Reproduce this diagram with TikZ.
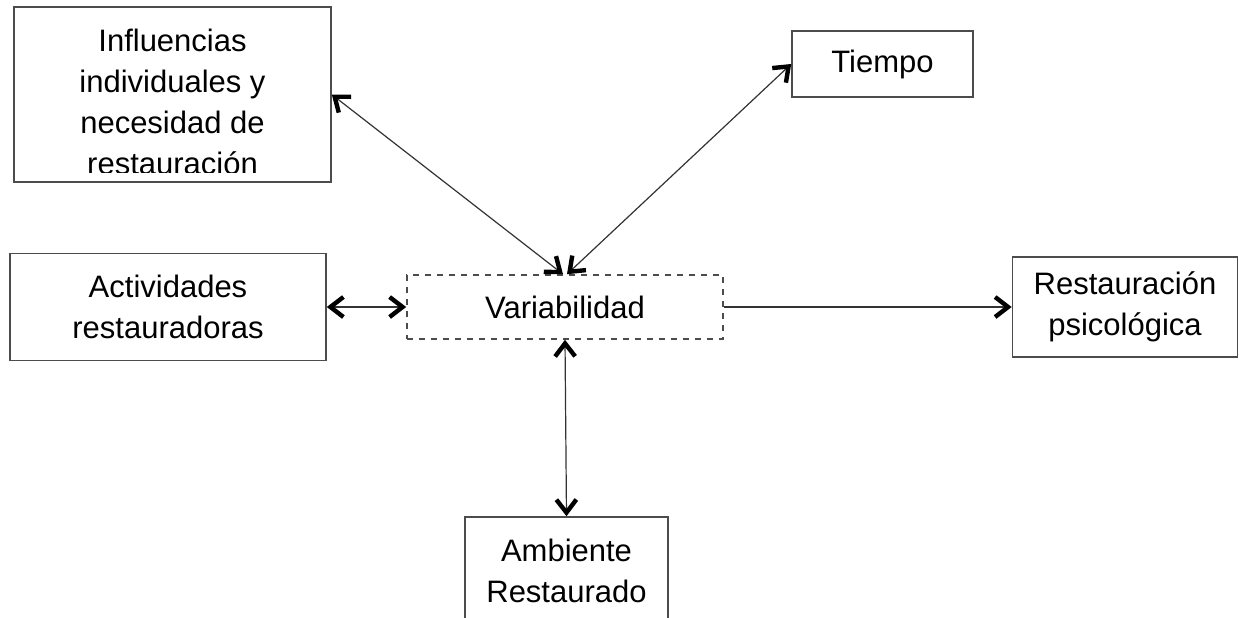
\documentclass[tikz,border=0pt]{standalone}
\usepackage{fontspec}
\setmainfont{Liberation Sans}
\usepackage{tikz}
\usetikzlibrary{arrows.meta}

\begin{document}
\begin{tikzpicture}[x=0.5pt, y=-0.5pt,
    box/.style={draw=black!70, line width=0.8pt, fill=white, inner sep=0pt,
      align=center, font=\fontsize{15.5}{20.5}\selectfont},
    barb/.tip={Straight Barb[length=6.5pt,width=10pt,line width=2.2pt,color=black]},
    link/.style={draw=black!80, line width=0.6pt, barb-barb},
    onelink/.style={draw=black!80, line width=0.6pt, -barb}]
  \useasboundingbox (0,0) rectangle (1239,617);
  % boxes
  \node[box, minimum width=158.5pt, minimum height=87.5pt] (infl) at (172.5,94.5) {};
  \begin{scope}
    \clip (14,7) rectangle (331,172);
    \node[align=center, font=\fontsize{15.5}{20.5}\selectfont, inner sep=0pt] (infltext) at (172.5,102)
      {Influencias\\individuales y\\necesidad de\\restauración};
  \end{scope}
  \node[box, minimum width=90.5pt, minimum height=33pt] (tiempo) at (882.5,64) {Tiempo};
  \node[box, minimum width=158pt, minimum height=53.5pt] (activ) at (168,307) {Actividades\\restauradoras};
  \node[box, dashed, minimum width=158pt, minimum height=32pt] (var) at (565,307) {Variabilidad};
  \node[box, minimum width=112.5pt, minimum height=50pt] (psico) at (1125,307) {Restauración\\psicológica};
  \node[box, minimum width=101.5pt, minimum height=54pt] (amb) at (566.5,571) {Ambiente\\Restaurado};
  % connectors
  \draw[link] (infl.east) -- ([xshift=-1pt]var.north);
  \draw[link] (tiempo.west) -- ([xshift=1pt]var.north);
  \draw[link] (activ.east) -- (var.west);
  \draw[link] (var.south) -- (amb.north);
  \draw[onelink] (var.east) -- (psico.west);
\end{tikzpicture}
\end{document}
